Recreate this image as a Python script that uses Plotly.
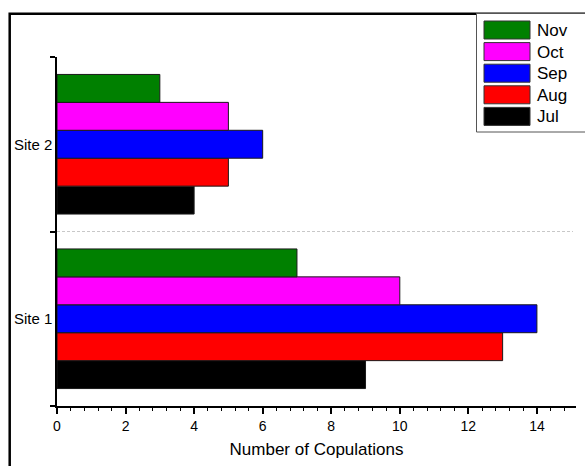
import plotly.graph_objects as go

# ---- data ----
sites = ["Site 1", "Site 2"]
months = ["Jul", "Aug", "Sep", "Oct", "Nov"]
colors = ["#000000", "#FF0000", "#0000FF", "#FF00FF", "#008000"]
jul = [9, 4]
aug = [13, 5]
sep = [14, 6]
oct_ = [10, 5]
nov = [7, 3]
values = [jul, aug, sep, oct_, nov]
x_ticks = [0, 2, 4, 6, 8, 10, 12, 14]

# ---- layout geometry (pixels) ----
W, H = 585, 466
L, R, T, B = 57, 9, 57, 60
pw = W - L - R
ph = H - T - B


def px_x(p):
    return (p - L) / pw


def px_y(p):
    return (H - B - p) / ph


fig = go.Figure()
for name, col, vals in zip(months, colors, values):
    fig.add_trace(go.Bar(
        y=sites, x=vals, name=name, orientation="h",
        marker=dict(color=col, line=dict(color="#1a1a1a", width=1)),
        showlegend=False,
    ))

shapes = []
annotations = []

# outer frame
shapes.append(dict(type="rect", xref="paper", yref="paper",
                   x0=px_x(9.7), x1=px_x(W + 10), y0=px_y(H + 10), y1=px_y(13.7),
                   line=dict(color="black", width=2.5), fillcolor="rgba(0,0,0,0)", layer="above"))

# dashed separator between categories (category boundary)
shapes.append(dict(type="line", xref="paper", yref="y",
                   x0=0, x1=px_x(573), y0=0.5, y1=0.5,
                   line=dict(color="#c8c8c8", width=1, dash="3px,2px"), layer="below"))

# custom legend
shapes.append(dict(type="rect", xref="paper", yref="paper",
                   x0=px_x(476.5), x1=px_x(W + 10), y0=px_y(132), y1=px_y(13.5),
                   line=dict(color="#555555", width=1), fillcolor="white", layer="above"))
row0, pitch, sh = 30.0, 21.6, 18.0
for i, (name, col) in enumerate(zip(months[::-1], colors[::-1])):
    cy = row0 + i * pitch
    shapes.append(dict(type="rect", xref="paper", yref="paper",
                       x0=px_x(484), x1=px_x(530), y0=px_y(cy + sh / 2), y1=px_y(cy - sh / 2),
                       line=dict(color="#333333", width=1), fillcolor=col, layer="above"))
    annotations.append(dict(xref="paper", yref="paper", x=px_x(535), y=px_y(cy + 0.5),
                            text=name, showarrow=False, xanchor="left", yanchor="middle",
                            font=dict(size=17, color="black")))

fig.update_layout(
    width=W, height=H,
    margin=dict(l=L, r=R, t=T, b=B, autoexpand=False),
    paper_bgcolor="white", plot_bgcolor="white",
    barmode="group", bargap=0.2, bargroupgap=0,
    font=dict(family="Liberation Sans, Arial, sans-serif", color="black"),
    shapes=shapes, annotations=annotations,
    showlegend=False,
)
fig.update_xaxes(
    range=[0, 15.14], tickvals=x_ticks, ticktext=[str(v) for v in x_ticks],
    ticks="outside", ticklen=6, tickwidth=1.5, tickcolor="black",
    showline=True, linecolor="black", linewidth=1.5,
    showgrid=False, zeroline=False,
    tickfont=dict(size=14),
    minor=dict(dtick=0.4, tick0=0, ticks="outside", ticklen=3, tickwidth=1, tickcolor="black", showgrid=False),
    title=dict(text="Number of Copulations", font=dict(size=17), standoff=11),
    automargin=False,
)
fig.update_yaxes(
    type="category", categoryorder="array", categoryarray=sites, range=[-0.5, 1.5],
    tickson="boundaries", ticks="outside", ticklen=5, tickwidth=1.5, tickcolor="black",
    showline=True, linecolor="black", linewidth=1.5,
    showgrid=False, zeroline=False,
    tickfont=dict(size=15),
    automargin=False,
)

fig.write_html("out.html", config={"displayModeBar": False},
               post_script="document.body.style.margin='0px';")
